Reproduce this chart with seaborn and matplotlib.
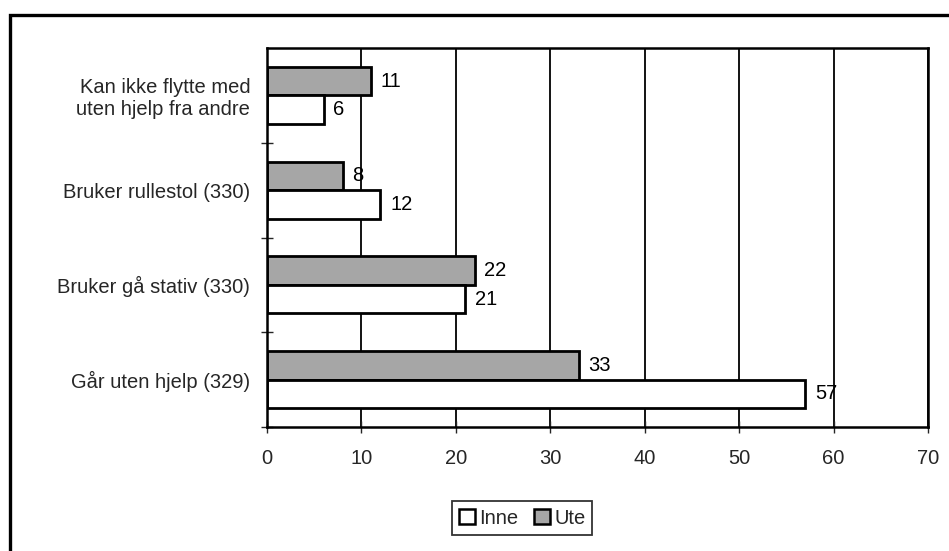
import matplotlib
matplotlib.use("Agg")
import matplotlib.pyplot as plt
from matplotlib.patches import Patch, Rectangle
import seaborn as sns
import pandas as pd

categories = [
    "Kan ikke flytte med\nuten hjelp fra andre",
    "Bruker rullestol (330)",
    "Bruker gå stativ (330)",
    "Går uten hjelp (329)",
]
ute = [11, 8, 22, 33]
inne = [6, 12, 21, 57]
series = ["Ute", "Inne"]
xticks = [0, 10, 20, 30, 40, 50, 60, 70]

df = pd.DataFrame({
    "kategori": categories * 2,
    "prosent": ute + inne,
    "sted": ["Ute"] * len(categories) + ["Inne"] * len(categories),
})

sns.set_theme(style="white")
plt.rcParams["font.family"] = ["Liberation Sans", "DejaVu Sans"]

FS = 14.5
fig = plt.figure(figsize=(9.49, 5.51), dpi=100)
ax = fig.add_axes([267 / 949, 1 - 427 / 551, 661 / 949, 379 / 551])

palette = {"Ute": "#a6a6a6", "Inne": "#ffffff"}
sns.barplot(data=df, y="kategori", x="prosent", hue="sted", hue_order=series,
            order=categories, orient="h", palette=palette, width=0.6,
            edgecolor="black", linewidth=2.0, ax=ax, legend=False)

# value labels next to each bar
for cont in ax.containers:
    ax.bar_label(cont, fmt="%g", padding=7, fontsize=FS, color="black")

ax.set_xlim(0, 70)
ax.set_ylim(3.5, -0.5)
ax.set_xticks(xticks)
ax.set_xticklabels([str(t) for t in xticks], fontsize=FS)
ax.set_xlabel("")
ax.set_ylabel("")
ax.xaxis.grid(True, color="black", linewidth=1.3)
ax.yaxis.grid(False)
ax.set_axisbelow(True)

# category-boundary ticks on the y axis
ax.set_yticks([0.5, 1.5, 2.5, 3.5], minor=False)
ax.set_yticklabels([])
ax.set_yticks(range(len(categories)), minor=True)
ax.set_yticklabels(categories, minor=True, fontsize=FS)
ax.tick_params(axis="y", which="minor", length=0, pad=12)
ax.tick_params(axis="y", which="major", length=8, width=1, direction="inout", left=True)
ax.tick_params(axis="x", length=8, width=1, direction="inout", bottom=True, pad=12)
for lab in ax.get_yticklabels(minor=True):
    lab.set_multialignment("right")

for side in ["left", "bottom", "right", "top"]:
    ax.spines[side].set_visible(True)
    ax.spines[side].set_color("black")
    ax.spines[side].set_linewidth(1.8)

handles = [Patch(facecolor="#ffffff", edgecolor="black", linewidth=1.8, label="Inne"),
           Patch(facecolor="#a6a6a6", edgecolor="black", linewidth=1.8, label="Ute")]
leg = fig.legend(handles=handles, loc="center", bbox_to_anchor=(522 / 949, 1 - 518 / 551),
                 ncol=2, frameon=True, fancybox=False, edgecolor="black", fontsize=FS,
                 handlelength=0.8, handleheight=0.8, handletextpad=0.2, columnspacing=0.8,
                 borderpad=0.35)
leg.get_frame().set_linewidth(1.3)

# outer chart frame
fig.patches.append(Rectangle((10 / 949, -0.01), 945 / 949, 1 - 15 / 551 + 0.01,
                             transform=fig.transFigure, fill=False,
                             edgecolor="black", linewidth=2.4))

fig.savefig("out.png", dpi=100)
